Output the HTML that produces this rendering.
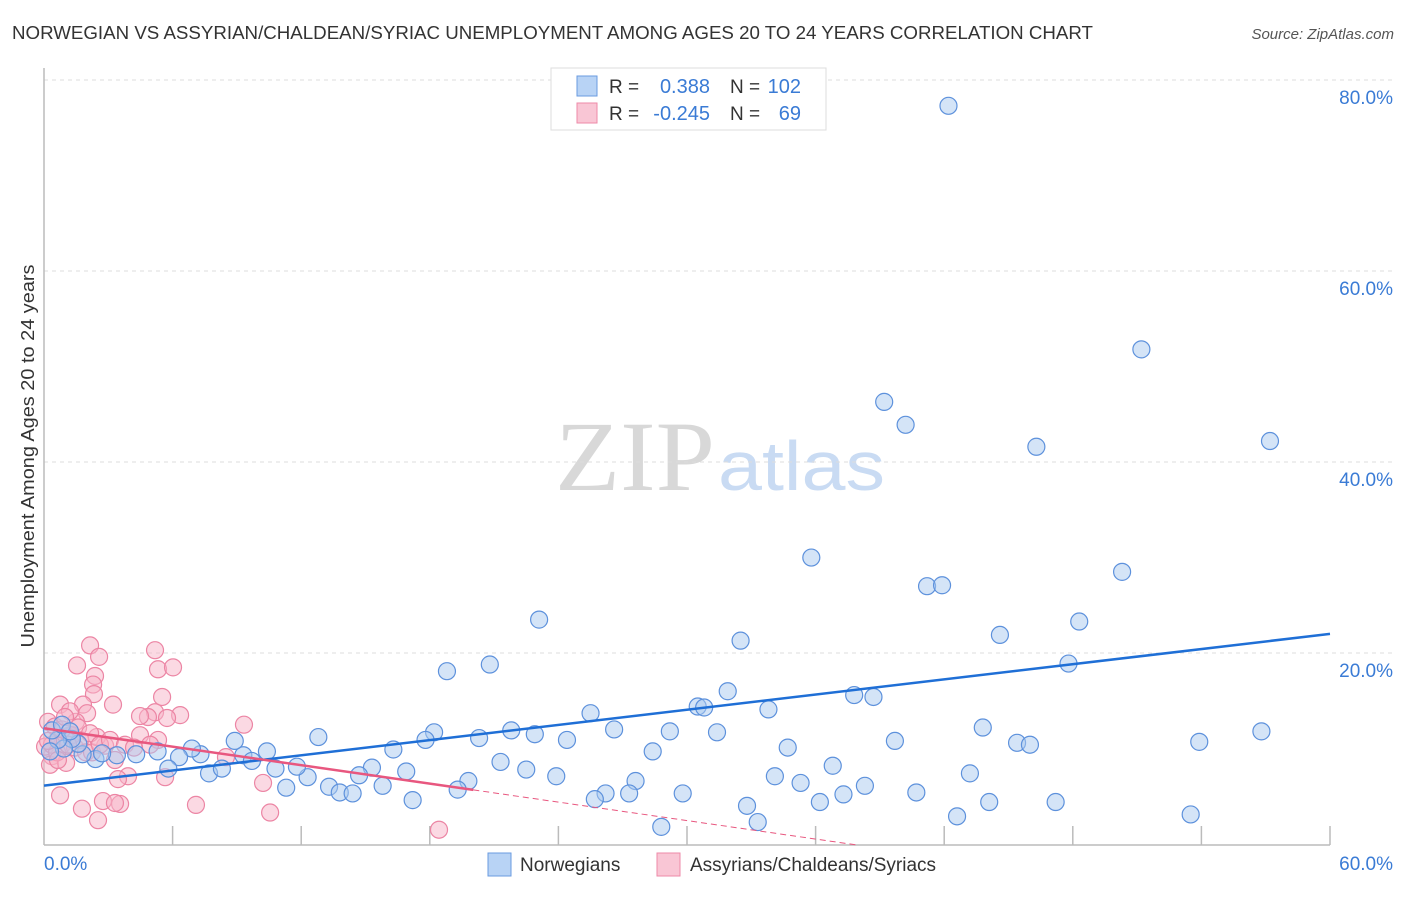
<!DOCTYPE html>
<html><head><meta charset="utf-8"><style>
body{margin:0;background:#fff;font-family:"Liberation Sans",sans-serif}
</style></head><body>
<svg id="chart" width="1406" height="892" style="font-family:'Liberation Sans',sans-serif">
<text x="12" y="39" font-size="18" fill="#333" textLength="1081" lengthAdjust="spacingAndGlyphs">NORWEGIAN VS ASSYRIAN/CHALDEAN/SYRIAC UNEMPLOYMENT AMONG AGES 20 TO 24 YEARS CORRELATION CHART</text>
<text x="1394" y="39" font-size="15" fill="#555" font-style="italic" text-anchor="end">Source: ZipAtlas.com</text>
<text x="715" y="490" font-size="100" fill="#d8d8d8" text-anchor="end" textLength="160" lengthAdjust="spacingAndGlyphs" style="font-family:'Liberation Serif',serif">ZIP</text>
<text x="718" y="490" font-size="70" fill="#c9dbf3" textLength="167" lengthAdjust="spacingAndGlyphs">atlas</text>
<text transform="translate(34,456) rotate(-90)" font-size="18" fill="#333" text-anchor="middle" textLength="383" lengthAdjust="spacingAndGlyphs">Unemployment Among Ages 20 to 24 years</text>
<g id="grid"></g><g id="marks"></g><g id="lines"></g>
<g>
<rect x="551" y="68" width="275" height="62" fill="#fff" stroke="#ddd"/>
<rect x="577" y="76" width="20" height="20" fill="#b8d3f5" stroke="#6a9be0"/>
<rect x="577" y="103" width="20" height="20" fill="#f9c6d5" stroke="#ee8aa8"/>
<text x="609" y="93" font-size="19" fill="#333">R =</text><text x="710" y="93" font-size="20" fill="#3a7bd5" text-anchor="end">0.388</text>
<text x="730" y="93" font-size="19" fill="#333">N =</text><text x="801" y="93" font-size="20" fill="#3a7bd5" text-anchor="end">102</text>
<text x="609" y="120" font-size="19" fill="#333">R =</text><text x="710" y="120" font-size="20" fill="#3a7bd5" text-anchor="end">-0.245</text>
<text x="730" y="120" font-size="19" fill="#333">N =</text><text x="801" y="120" font-size="20" fill="#3a7bd5" text-anchor="end">69</text>
</g>
<g>
<rect x="488" y="853" width="23" height="23" fill="#b8d3f5" stroke="#6a9be0"/>
<text x="520" y="871" font-size="19" fill="#333">Norwegians</text>
<rect x="657" y="853" width="23" height="23" fill="#f9c6d5" stroke="#ee8aa8"/>
<text x="690" y="871" font-size="19" fill="#333">Assyrians/Chaldeans/Syriacs</text>
</g>
</svg>
<script>
const yTicks=[20,40,60,80];
const yTickLabels=["20.0%","40.0%","60.0%","80.0%"];
const xTickLabels=["0.0%","60.0%"];
const blueX=[42.2,51.2,39.2,40.2,46.3,57.2,35.8,41.2,41.9,50.3,23.1,32.5,44.6,48.3,18.8,20.8,47.8,31.9,30.5,30.8,37.8,38.7,33.8,25.5,43.8,56.8,53.9,39.7,45.4,46.0,26.6,21.8,22.9,24.4,18.2,17.8,20.3,12.8,31.4,29.2,28.4,34.7,16.3,21.3,22.5,23.9,36.8,43.2,34.1,35.3,38.3,27.6,27.3,26.2,25.7,29.8,36.2,37.3,40.7,44.1,47.2,32.8,33.3,28.8,42.6,53.5,19.8,19.3,17.2,15.8,16.9,15.3,14.7,13.3,13.8,14.4,11.3,12.3,11.8,10.8,9.3,9.7,8.9,10.4,7.7,8.3,7.3,6.9,6.3,5.8,5.3,4.3,3.4,2.4,1.8,1.6,1.3,0.93,0.65,0.37,0.28,0.84,1.21,2.71];
const blueY=[77.4,51.9,46.4,44.0,41.7,42.3,30.1,27.1,27.2,28.6,23.6,21.4,22.0,23.4,18.2,18.9,19.0,16.1,14.5,14.4,15.7,15.5,14.2,13.8,12.3,11.9,10.8,10.9,10.7,10.5,12.1,12.0,11.6,11.0,11.8,11.0,11.2,11.3,11.8,11.9,9.8,10.2,10.0,8.7,7.9,7.2,8.3,7.5,7.2,6.5,6.2,6.7,5.4,5.4,4.8,5.4,4.5,5.3,5.5,4.5,4.5,4.1,2.4,1.9,3.0,3.2,6.7,5.8,4.7,6.2,7.7,8.1,7.3,6.1,5.5,5.4,6.0,7.1,8.2,8.0,9.4,8.8,10.9,9.8,7.5,8.0,9.5,10.1,9.2,8.0,9.8,9.5,9.4,9.0,9.5,10.6,11.1,10.1,11.0,12.0,9.8,12.6,11.9,9.6];
const pinkX=[2.15,2.57,2.38,1.54,2.29,2.33,5.18,5.32,6.02,5.51,5.18,6.35,5.74,4.85,4.48,3.22,1.82,2.01,1.49,0.75,1.21,0.19,0.51,0.65,0.84,0.37,0.28,1.03,1.45,1.21,1.68,1.96,2.24,2.85,2.47,3.31,3.92,5.32,4.48,5.65,9.33,8.49,10.22,7.09,3.45,3.55,1.77,2.75,0.75,3.31,2.52,10.55,18.43,1.31,0.05,0.37,0.84,1.59,2.15,2.61,0.61,1.12,3.08,4.95,3.78,4.2,0.65,0.19,0.98];
const pinkY=[20.9,19.7,17.7,18.8,16.8,15.8,20.4,18.4,18.6,15.5,13.9,13.6,13.3,13.4,13.5,14.7,14.7,13.8,12.9,14.7,14.0,12.9,12.4,11.1,10.5,9.3,8.4,8.6,10.2,11.5,11.0,9.7,9.7,10.4,11.3,8.9,7.2,11.0,11.5,7.1,12.6,9.2,6.5,4.2,6.9,4.3,3.8,4.6,5.2,4.4,2.6,3.4,1.6,11.5,10.3,10.5,12.1,12.3,11.7,10.5,9.7,10.5,11.0,10.5,10.5,10.2,8.9,10.9,13.4];
const NS='http://www.w3.org/2000/svg';
const X0=44,X1=1330,Y0=845,YTOP=81;
function sx(v){return X0+v*(X1-X0)/60;}
function sy(v){return Y0-v*(Y0-YTOP)/80;}
function mk(tag,attrs,parent){const e=document.createElementNS(NS,tag);for(const k in attrs)e.setAttribute(k,attrs[k]);parent.appendChild(e);return e;}
const grid=document.getElementById('grid'),marks=document.getElementById('marks'),lines=document.getElementById('lines');
yTicks.forEach((t,i)=>{
 const l=mk('line',{x1:X0,x2:1394,y1:sy(t)-1,y2:sy(t)-1,stroke:'#ddd','stroke-dasharray':'4,4'},grid);
 
 
 const tx=mk('text',{x:1393,y:sy(t)+23,'font-size':19,fill:'#3a7bd5','text-anchor':'end'},grid);
 tx.textContent=yTickLabels[i];
 
 
});
const ax=mk('line',{x1:X0,x2:X1,y1:Y0,y2:Y0,stroke:'#bbb','stroke-width':1.5},grid);


const ay=mk('line',{x1:X0,x2:X0,y1:68,y2:Y0,stroke:'#bbb','stroke-width':1.5},grid);


for(let i=1;i<=10;i++){const t=mk('line',{x1:sx(i*6),x2:sx(i*6),y1:826,y2:Y0,stroke:'#bbb','stroke-width':1.5},grid);
 
 }
[[0,'start',44],[60,'end',1393]].forEach((a,i)=>{const t=mk('text',{x:a[2],y:870,'font-size':19,fill:'#3a7bd5','text-anchor':a[1]},grid);t.textContent=xTickLabels[i];
 
 });
function pts(xs,ys,fill,stroke,name){xs.forEach((x,i)=>{const c=mk('circle',{cx:sx(x),cy:sy(ys[i]),r:8.5,fill:fill,'fill-opacity':0.5,stroke:stroke,'stroke-width':1.2},marks);
 
 });}
pts(pinkX,pinkY,'#f7b3c7','#ec85a4','assyrian-point');
pts(blueX,blueY,'#a9c9f0','#5d91dc','norwegian-point');
function reg(xs,ys){const n=xs.length;let mx=0,my=0;xs.forEach((x,i)=>{mx+=x;my+=ys[i];});mx/=n;my/=n;let sxy=0,sxx=0;xs.forEach((x,i)=>{sxy+=(x-mx)*(ys[i]-my);sxx+=(x-mx)*(x-mx);});const b=sxy/sxx;return[my-b*mx,b];}
const rb=reg(blueX,blueY);
const bl=mk('line',{x1:sx(0),y1:sy(rb[0]),x2:sx(60),y2:sy(rb[0]+rb[1]*60),stroke:'#1f6fd6','stroke-width':2.5},lines);


const rp=reg(pinkX,pinkY);
const pmax=Math.max(...pinkX)+1.6;
const pl=mk('line',{x1:sx(0),y1:sy(rp[0]),x2:sx(pmax),y2:sy(rp[0]+rp[1]*pmax),stroke:'#e8577f','stroke-width':2.5},lines);


const xz=Math.min(60,-rp[0]/rp[1]);
const pd=mk('line',{x1:sx(pmax),y1:sy(rp[0]+rp[1]*pmax),x2:sx(xz),y2:sy(rp[0]+rp[1]*xz),stroke:'#e8577f','stroke-width':1,'stroke-dasharray':'6,4'},lines);


</script>
</body></html>
